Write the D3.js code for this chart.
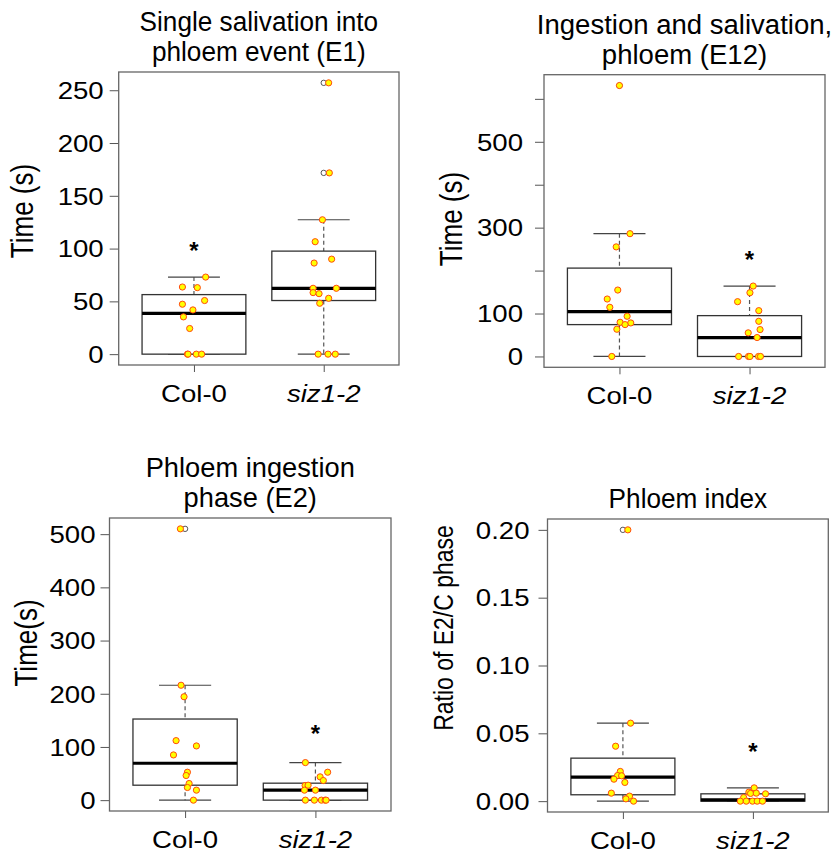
<!DOCTYPE html>
<html lang="en">
<head>
<meta charset="utf-8">
<script src="https://d3js.org/d3.v7.min.js"></script>
<title>EPG boxplots</title>
<style>
    body { margin: 0; background: #fff; }
    text { font-family: "Liberation Sans", Arial, sans-serif; fill: #000; }
</style>
</head>
<body>
<div id="chart"></div>
<script>
var groups = ["Col-0", "siz1-2"];

// box stats: [lower whisker, Q1, median, Q3, upper whisker]
// E1 - single salivation into phloem
var e1Col0 = [73, 63.6, 63, 50.8, 47.3, 41.9, 35.3, 24.3, 0, 0, 0, 0];
var e1Col0Jitter = [0.09, -0.089, 0.026, 0.082, -0.089, -0.008, -0.081, -0.033, -0.05, -0.046, 0.018, 0.059];
var e1Col0Box = [0, 0, 38.7, 56.4, 73];
var e1Col0Out = [];
var e1Siz = [257, 171.7, 127.3, 106.5, 90, 86.3, 62.4, 58.3, 57.3, 62.4, 52.9, 48.2, 0, 0, 0];
var e1SizJitter = [0.038, 0.043, -0.01, -0.066, 0.061, -0.074, -0.082, -0.082, -0.036, 0.097, 0.038, -0.031, -0.043, 0.033, 0.089];
var e1SizBox = [0, 50.8, 62.4, 97.6, 127.3];
var e1SizOut = [257, 171.7];
var e1Ticks = [0, 50, 100, 150, 200, 250];

// E12 - ingestion and salivation
var e12Col0 = [631, 286, 255.2, 154.7, 133.8, 114.5, 93.6, 79.6, 78.1, 74.2, 63.4, 0];
var e12Col0Jitter = [0, 0.081, -0.025, -0.013, -0.094, -0.074, 0.059, 0.005, 0.087, 0.043, -0.02, -0.059];
var e12Col0Box = [0, 74.2, 104.4, 205.8, 286];
var e12Col0Out = [631];
var e12Siz = [164, 148.5, 127.6, 106.7, 81.9, 62.6, 55, 44.1, 0, 0, 0, 0, 0];
var e12SizJitter = [0.028, 0.003, -0.092, 0.071, 0.071, 0.081, -0.01, 0.058, -0.084, -0.008, 0.003, 0.069, 0.084];
var e12SizBox = [0, 0, 44.1, 95.1, 164];
var e12SizOut = [];
var e12Ticks = [0, 100, 200, 300, 400, 500, 600];
var e12TickLabels = [0, 100, 300, 500];

// E2 - phloem ingestion phase
var e2Col0 = [510, 216, 194.4, 111.9, 101.9, 85, 52.5, 46.3, 31.3, 23.8, 18.8, 0];
var e2Col0Jitter = [-0.036, -0.031, -0.008, -0.069, 0.087, -0.089, 0.018, 0.008, 0.031, 0.018, 0.087, 0.064];
var e2Col0Box = [0, 28.1, 69.4, 152.5, 216];
var e2Col0Out = [510];
var e2Siz = [70.6, 52.5, 43.8, 36.9, 27.5, 28.1, 18.8, 18.8, 0, 0, 0, 0, 0];
var e2SizJitter = [-0.077, 0.094, 0.036, 0.061, -0.079, -0.056, -0.084, 0, -0.077, -0.008, 0.046, 0.074, 0.082];
var e2SizBox = [0, 0, 18.8, 31.9, 70.6];
var e2SizOut = [];
var e2Ticks = [0, 100, 200, 300, 400, 500];

// phloem index
var piCol0 = [0.2, 0.0575, 0.0405, 0.0219, 0.0189, 0.0187, 0.0162, 0.0138, 0.0059, 0.0037, 0.0017, 0];
var piCol0Jitter = [0.038, 0.059, -0.056, -0.02, -0.041, -0.01, -0.069, 0.015, -0.089, 0.051, 0.023, 0.082];
var piCol0Box = [0, 0.0047, 0.0177, 0.0317, 0.0575];
var piCol0Out = [0.2];
var piSiz = [0.0098, 0.0066, 0.0057, 0.0059, 0.0054, 0.0027, 0, 0, 0, 0, 0];
var piSizJitter = [0.01, -0.031, -0.018, 0.026, 0.097, -0.071, -0.097, -0.051, -0.003, 0.033, 0.074];
var piSizBox = [0, 0, 0.001, 0.0054, 0.0098];
var piSizOut = [];
var piTicks = [0, 0.05, 0.1, 0.15, 0.2];

var panels = [
    {left: 118.7, right: 399, top: 72, bottom: 365,
     title: ["Single salivation into", "phloem event (E1)"], titleSX: 0.97,
     ylab: "Time (s)", ylabSize: 26, ylabX: 33, ylabY: 211, gap: 15,
     ticks: e1Ticks, fmt: d3.format("d"),
     vals: [e1Col0, e1Siz], jit: [e1Col0Jitter, e1SizJitter],
     box: [e1Col0Box, e1SizBox], out: [e1Col0Out, e1SizOut],
     star: {group: 0, value: 102}},
    {left: 544, right: 825, top: 74.7, bottom: 367.3,
     title: ["Ingestion and salivation,", "phloem (E12)"], titleSX: 1.02,
     ylab: "Time (s)", ylabSize: 26, ylabX: 462, ylabY: 219, gap: 21,
     ticks: e12Ticks, fmt: function(d) { return e12TickLabels.indexOf(d) >= 0 ? d : ""; },
     vals: [e12Col0, e12Siz], jit: [e12Col0Jitter, e12SizJitter],
     box: [e12Col0Box, e12SizBox], out: [e12Col0Out, e12SizOut],
     star: {group: 1, value: 236.5}},
    {left: 109.5, right: 391, top: 518, bottom: 811,
     title: ["Phloem ingestion", "phase (E2)"], titleSX: 1.01,
     ylab: "Time(s)", ylabSize: 26, ylabX: 37, ylabY: 643, gap: 14,
     ticks: e2Ticks, fmt: d3.format("d"),
     vals: [e2Col0, e2Siz], jit: [e2Col0Jitter, e2SizJitter],
     box: [e2Col0Box, e2SizBox], out: [e2Col0Out, e2SizOut],
     star: {group: 1, value: 133.9}},
    {left: 547.5, right: 828.3, top: 519, bottom: 812,
     title: ["Phloem index"], titleSX: 0.97,
     ylab: "Ratio of E2/C phase", ylabSize: 23, ylabX: 453, ylabY: 628, gap: 18,
     ticks: piTicks, fmt: d3.format(".2f"),
     vals: [piCol0, piSiz], jit: [piCol0Jitter, piSizJitter],
     box: [piCol0Box, piSizBox], out: [piCol0Out, piSizOut],
     star: {group: 1, value: 0.0397}}
];

var SX = 1.2; // the figure is a little wider than tall, text included

var svg = d3.select("#chart").append("svg")
    .attr("width", 834)
    .attr("height", 857);

function label(g, x, y, str, size, sx) {
    return g.append("text")
        .attr("transform", "translate(" + x + "," + y + ") scale(" + (sx || SX) + ",1)")
        .attr("text-anchor", "middle")
        .style("font-size", size + "px")
        .text(str);
}

function drawPanel(p) {
    var g = svg.append("g");

    var x = d3.scaleLinear().domain([0.42, 2.58]).range([p.left, p.right]);

    var lo = d3.min(p.vals.map(function(v) { return d3.min(v); }));
    var hi = d3.max(p.vals.map(function(v) { return d3.max(v); }));
    var pad = (hi - lo) * 0.04;
    var y = d3.scaleLinear().domain([lo - pad, hi + pad]).range([p.bottom, p.top]);

    // y axis
    var ya = g.append("g")
        .attr("transform", "translate(" + p.left + ",0)")
        .call(d3.axisLeft(y).tickValues(p.ticks).tickSize(9).tickFormat(p.fmt));
    ya.select(".domain").remove();
    ya.selectAll(".tick line").attr("stroke", "#555");
    ya.selectAll(".tick text")
        .attr("x", null).attr("dy", "0.36em")
        .attr("text-anchor", "end")
        .attr("transform", "translate(" + (-p.gap) + ",0) scale(" + SX + ",1)")
        .style("font-size", "23px")
        .style("font-family", "Liberation Sans, Arial, sans-serif")
        .attr("fill", "#000");

    // x axis
    var xa = g.append("g")
        .attr("transform", "translate(0," + p.bottom + ")")
        .call(d3.axisBottom(x).tickValues([1, 2]).tickSize(7).tickFormat(""));
    xa.select(".domain").remove();
    xa.selectAll(".tick line").attr("stroke", "#555");
    groups.forEach(function(name, i) {
        var t = label(g, x(i + 1), p.bottom + 37, name, 23);
        if (i === 1) t.style("font-style", "italic");
    });

    // boxes
    p.box.forEach(function(b, i) {
        var cx = x(i + 1);
        var hw = x(1.4) - x(1);
        var cw = x(1.2) - x(1);
        g.append("line")
            .attr("x1", cx).attr("x2", cx).attr("y1", y(b[4])).attr("y2", y(b[3]))
            .attr("stroke", "#555").attr("stroke-width", 1.2).attr("stroke-dasharray", "4,3");
        g.append("line")
            .attr("x1", cx).attr("x2", cx).attr("y1", y(b[1])).attr("y2", y(b[0]))
            .attr("stroke", "#555").attr("stroke-width", 1.2).attr("stroke-dasharray", "4,3");
        [b[0], b[4]].forEach(function(v) {
            g.append("line")
                .attr("x1", cx - cw).attr("x2", cx + cw).attr("y1", y(v)).attr("y2", y(v))
                .attr("stroke", "#444").attr("stroke-width", 1.2);
        });
        g.append("rect")
            .attr("x", cx - hw).attr("width", 2 * hw)
            .attr("y", y(b[3])).attr("height", y(b[1]) - y(b[3]))
            .attr("fill", "#fff").attr("stroke", "#333").attr("stroke-width", 1.3);
        g.append("line")
            .attr("x1", cx - hw).attr("x2", cx + hw).attr("y1", y(b[2])).attr("y2", y(b[2]))
            .attr("stroke", "#000").attr("stroke-width", 3.2);
        // outliers from boxplot itself
        g.selectAll(null).data(p.out[i]).enter().append("circle")
            .attr("cx", cx).attr("cy", function(d) { return y(d); })
            .attr("r", 2.7)
            .attr("fill", "#fff").attr("stroke", "#444").attr("stroke-width", 0.9);
    });

    // jittered points
    p.vals.forEach(function(v, i) {
        g.selectAll(null).data(v).enter().append("circle")
            .attr("cx", function(d, k) { return x(i + 1 + p.jit[i][k]); })
            .attr("cy", function(d) { return y(d); })
            .attr("r", 3.1)
            .attr("fill", "#ffff00")
            .attr("stroke", "#ff4a10")
            .attr("stroke-width", 1);
    });

    // frame
    g.append("rect")
        .attr("x", p.left).attr("y", p.top)
        .attr("width", p.right - p.left).attr("height", p.bottom - p.top)
        .attr("fill", "none").attr("stroke", "#666").attr("stroke-width", 1.3);

    // significance star
    g.append("text")
        .attr("x", x(p.star.group + 1)).attr("y", y(p.star.value) + 13)
        .attr("text-anchor", "middle")
        .style("font-size", "24px").style("font-weight", "bold")
        .text("*");

    // title
    var n = p.title.length;
    p.title.forEach(function(line, k) {
        label(g, (p.left + p.right) / 2, p.top - 11 - (n - 1 - k) * 30, line, 27, p.titleSX);
    });

    // y title
    g.append("text")
        .attr("transform", "translate(" + p.ylabX + "," + p.ylabY + ") scale(" + SX + ",1) rotate(-90)")
        .attr("text-anchor", "middle")
        .style("font-size", p.ylabSize + "px")
        .text(p.ylab);
}

panels.forEach(drawPanel);
</script>
</body>
</html>
